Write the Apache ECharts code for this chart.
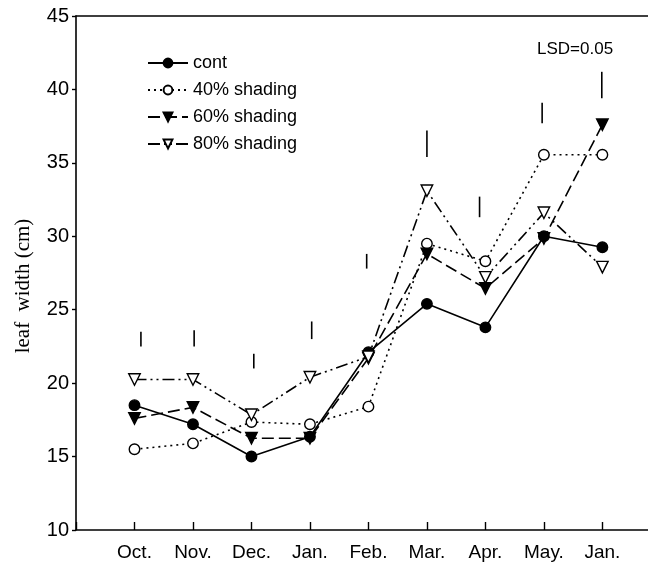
<!DOCTYPE html>
<html>
<head>
<meta charset="utf-8">
<script src="https://cdn.jsdelivr.net/npm/echarts@6/dist/echarts.min.js"></script>
<style>html,body{margin:0;padding:0;background:#fff}#c{width:648px;height:567px}</style>
</head>
<body>
<div id="c"></div>
<script>
const categories = ['Oct.', 'Nov.', 'Dec.', 'Jan.', 'Feb.', 'Mar.', 'Apr.', 'May.', 'Jan.'];
const cont    = [18.5, 17.2, 15.0, 16.35, 22.1, 25.4, 23.8, 30.0, 29.25];
const shade40 = [15.5, 15.9, 17.35, 17.2, 18.4, 29.5, 28.3, 35.55, 35.55];
const shade60 = [17.6, 18.35, 16.25, 16.25, 21.7, 28.8, 26.45, 29.85, 37.6];
const shade80 = [20.25, 20.25, 17.85, 20.4, 21.8, 33.1, 27.2, 31.6, 27.9];
const lsdX    = [1.11, 2.02, 3.04, 4.03, 4.97, 6.0, 6.9, 7.97, 8.99];
const lsdLow  = [22.5, 22.5, 21.0, 23.0, 27.8, 35.4, 31.3, 37.7, 39.4];
const lsdHigh = [23.5, 23.6, 22.0, 24.2, 28.8, 37.2, 32.7, 39.1, 41.2];
const yTicks  = [10, 15, 20, 25, 30, 35, 40, 45];

const toXY = arr => arr.map((v, i) => [i + 1, v]);
const chart = echarts.init(document.getElementById('c'));
const font = '"Liberation Sans", Arial, sans-serif';
const lw = 1.6;
function ser(name, data, symbol, fill, dash, rotate) {
  return {
    name, type: 'line', data: toXY(data),
    symbol, symbolSize: symbol === 'circle' ? 10.5 : 11.5, symbolRotate: rotate || 0,
    lineStyle: { color: '#000', width: lw, type: dash },
    itemStyle: { color: fill, borderColor: '#000', borderWidth: 1.4 },
    emphasis: { disabled: true }, animation: false, z: 3
  };
}
chart.setOption({
  animation: false,
  grid: { left: 76, right: 0, top: 16, bottom: 37 },
  legend: {
    orient: 'vertical', left: 142, top: 49, itemWidth: 40, itemHeight: 11, itemGap: 9,
    textStyle: { fontFamily: font, fontSize: 18, color: '#000' },
    data: ['cont', '40% shading', '60% shading', '80% shading']
  },
  xAxis: [{
    type: 'value', min: 0, max: 9.78, interval: 1,
    axisLine: { show: true, onZero: false, lineStyle: { color: '#000', width: 1.6 } },
    axisTick: { show: true, inside: true, length: 8, lineStyle: { color: '#000', width: 1.4 } },
    axisLabel: { margin: 13, fontFamily: font, fontSize: 19, color: '#000', showMaxLabel: false,
      formatter: v => (v >= 1 && v <= 9 && Math.abs(v - Math.round(v)) < 1e-6) ? categories[Math.round(v) - 1] : '' },
    splitLine: { show: false }
  }, {
    type: 'value', position: 'top', min: 0, max: 9.78,
    axisLine: { show: true, onZero: false, lineStyle: { color: '#000', width: 1.6 } },
    axisTick: { show: false }, axisLabel: { show: false }, splitLine: { show: false }
  }],
  yAxis: {
    type: 'value', min: yTicks[0], max: yTicks[yTicks.length - 1], interval: 5,
    axisLine: { show: true, lineStyle: { color: '#000', width: 1.6 } },
    axisTick: { show: true, length: 4, lineStyle: { color: '#000', width: 1.4 } },
    axisLabel: { margin: 7, fontFamily: font, fontSize: 20, color: '#000' },
    splitLine: { show: false }
  },
  series: [
    ser('cont', cont, 'circle', '#000', 'solid'),
    ser('40% shading', shade40, 'circle', '#fff', [2, 4]),
    ser('60% shading', shade60, 'triangle', '#000', [12, 5], 180),
    ser('80% shading', shade80, 'triangle', '#fff', [12, 4, 2, 4, 2, 4], 180),
    {
      type: 'custom', name: 'LSD', silent: true, z: 2,
      data: lsdX.map((x, i) => [x, lsdLow[i], lsdHigh[i]]),
      renderItem: (params, api) => {
        const p1 = api.coord([api.value(0), api.value(1)]);
        const p2 = api.coord([api.value(0), api.value(2)]);
        return { type: 'line', shape: { x1: p1[0], y1: p1[1], x2: p2[0], y2: p2[1] },
          style: { stroke: '#000', lineWidth: 1.6 } };
      }
    }
  ],
  graphic: [
    { type: 'text', left: 537, top: 41, style: { text: 'LSD=0.05', font: '17px ' + font, fill: '#000' } },
    { type: 'text', x: 23, y: 286, rotation: Math.PI / 2,
      style: { text: 'leaf  width (cm)', font: '21px "Liberation Serif", "Times New Roman", serif', fill: '#000', align: 'center', verticalAlign: 'middle' } }
  ]
});
</script>
</body>
</html>
